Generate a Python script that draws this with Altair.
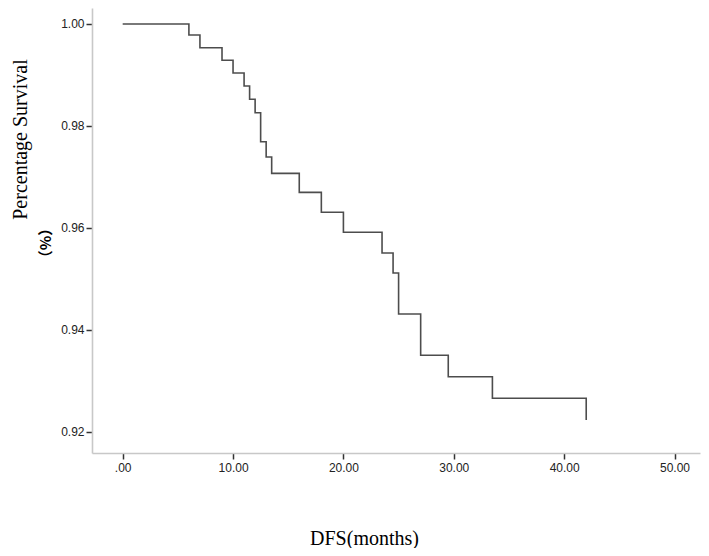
import altair as alt
import pandas as pd

# Kaplan-Meier step points (months, survival proportion)
times = [0, 6, 7, 9, 10, 11, 11.5, 12, 12.5, 13, 13.5, 16, 18, 20, 23.5, 24.5, 25, 27, 29.5, 33.5, 42]
surv = [1.0, 0.99784, 0.99535, 0.99288, 0.99039, 0.98784, 0.98524, 0.98261, 0.97690, 0.97392,
        0.97071, 0.96698, 0.96308, 0.95916, 0.95510, 0.95118, 0.94314, 0.93504, 0.93084, 0.92663,
        0.92235]

x_ticks = [0, 10, 20, 30, 40, 50]
y_ticks = [0.92, 0.94, 0.96, 0.98, 1.00]
unit_label = ["（%）"]

df = pd.DataFrame({"t": times, "s": surv})

line = alt.Chart(df).mark_line(
    interpolate="step-after", color="#4d4d4d", strokeWidth=1.6
).encode(
    x=alt.X(
        "t:Q",
        scale=alt.Scale(domain=[-2.78, 52.31], nice=False, zero=False),
        axis=alt.Axis(
            values=x_ticks,
            labelExpr="datum.value == 0 ? '.00' : format(datum.value, '.2f')",
            title="DFS(months)",
            titleFont="Liberation Serif",
            titleFontSize=20,
            titleFontWeight="normal",
            titleColor="#000000",
            titleX=272,
            titleY=91,
            titleAlign="center",
            titleBaseline="alphabetic",
            grid=False,
            domainColor="#c8c8c8",
            domainWidth=1.6,
            tickColor="#333333",
            tickWidth=1.5,
            tickSize=6,
            labelFont="Liberation Sans",
            labelFontSize=12,
            labelColor="#222222",
            labelPadding=3,
        ),
    ),
    y=alt.Y(
        "s:Q",
        scale=alt.Scale(domain=[0.91588, 1.003137], nice=False, zero=False),
        axis=alt.Axis(
            values=y_ticks,
            format=".2f",
            title="Percentage Survival",
            titleFont="Liberation Serif",
            titleFontSize=20,
            titleFontWeight="normal",
            titleColor="#000000",
            titleAngle=270,
            titleX=-72,
            titleY=131,
            titleAlign="center",
            titleBaseline="middle",
            grid=False,
            domainColor="#c8c8c8",
            domainWidth=1.6,
            tickColor="#333333",
            tickWidth=1.5,
            tickSize=6,
            labelFont="Liberation Sans",
            labelFontSize=12,
            labelColor="#222222",
            labelPadding=2,
        ),
    ),
)

unit = alt.Chart(pd.DataFrame({"u": unit_label})).mark_text(
    font="Noto Sans CJK SC", fontSize=15, fontWeight="bold", angle=270,
    align="center", baseline="middle", color="#000000"
).encode(
    x=alt.value(-46),
    y=alt.value(235),
    text="u:N",
)

chart = alt.layer(line, unit).properties(
    width=608,
    height=445,
    autosize=alt.AutoSizeParams(type="none"),
    padding={"left": 84, "top": 0, "right": 1, "bottom": 95},
).configure(
    background="white",
    view=alt.ViewConfig(stroke=None),
)

chart.save("out.html", embed_options={"renderer": "svg", "actions": False})
